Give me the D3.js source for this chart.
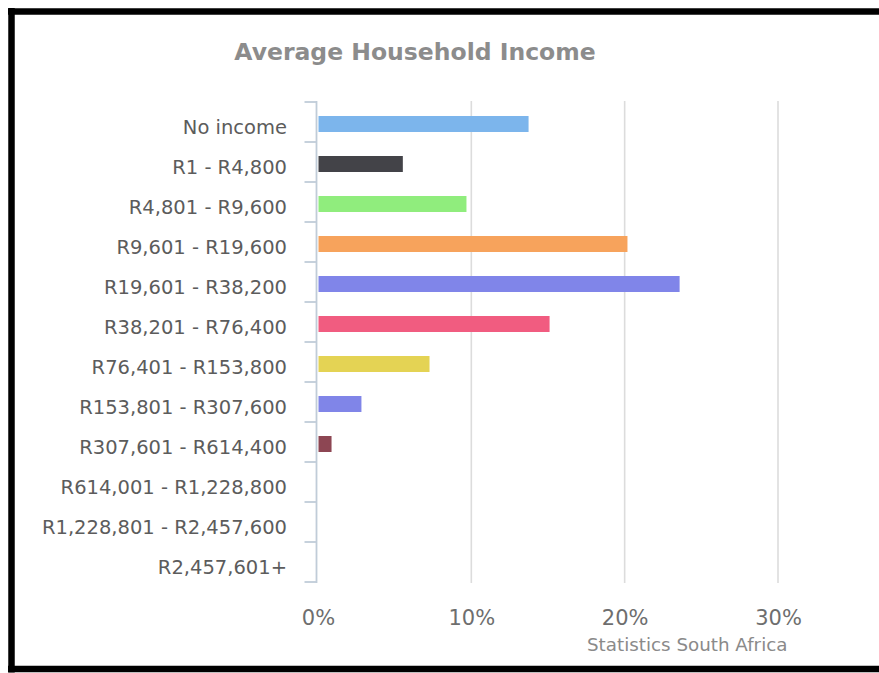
<!DOCTYPE html>
<html>
<head>
<meta charset="utf-8">
<script src="https://cdn.jsdelivr.net/npm/d3@7"></script>
<style>
  html, body { margin: 0; padding: 0; background: #ffffff; overflow: hidden; }
  svg { display: block; }
</style>
</head>
<body>
<svg id="chart" width="879" height="673"></svg>
<script>
const categories = [
  "No income", "R1 - R4,800", "R4,801 - R9,600", "R9,601 - R19,600",
  "R19,601 - R38,200", "R38,201 - R76,400", "R76,401 - R153,800",
  "R153,801 - R307,600", "R307,601 - R614,400", "R614,001 - R1,228,800",
  "R1,228,801 - R2,457,600", "R2,457,601+"
];
const values = [13.7, 5.5, 9.65, 20.15, 23.55, 15.07, 7.24, 2.8, 0.85, 0, 0, 0];
const colors = ["#7cb5ec", "#434348", "#90ed7d", "#f7a35c", "#8085e9", "#f15c80",
                "#e4d354", "#8085e8", "#8d4653", "#91e8e1", "#7cb5ec", "#434348"];
const xTicks = [0, 10, 20, 30];
const titleText = "Average Household Income";
const creditText = "Statistics South Africa";

const svg = d3.select("#chart");
const font = "'DejaVu Sans', Verdana, sans-serif";

// frame (top, left, bottom only; right edge is cut off)
const frame = svg.append("g").attr("stroke", "#000").attr("stroke-width", 6.5);
frame.append("line").attr("x1", 8).attr("x2", 879).attr("y1", 11.5).attr("y2", 11.5);
frame.append("line").attr("x1", 11.5).attr("x2", 11.5).attr("y1", 8).attr("y2", 672.5);
frame.append("line").attr("x1", 8).attr("x2", 879).attr("y1", 669).attr("y2", 669);

const x = d3.scaleLinear().domain([0, 30]).range([318, 778]);
const y = d3.scaleBand().domain(categories).range([103, 583]).paddingInner(0).paddingOuter(0);
const barH = 16;

// gridlines
svg.append("g").selectAll("line").data(xTicks.filter(d => d > 0)).join("line")
  .attr("x1", d => x(d)).attr("x2", d => x(d))
  .attr("y1", 101).attr("y2", 583)
  .attr("stroke", "#dcdcdc").attr("stroke-width", 1.6);

// title
svg.append("text").attr("x", 415).attr("y", 60).attr("text-anchor", "middle")
  .attr("font-family", font).attr("font-weight", "bold").attr("font-size", 23.5)
  .attr("fill", "#8c8c8c").text(titleText);

// bars
svg.append("g").selectAll("rect").data(values).join("rect")
  .attr("x", x(0) + 0.5)
  .attr("y", (d, i) => y(categories[i]) + y.bandwidth() / 2 - barH / 2 + 1)
  .attr("width", d => Math.max(0, x(d) - x(0)))
  .attr("height", barH)
  .attr("fill", (d, i) => colors[i]);

// y axis line and ticks (between categories)
const axisX = x(0) - 1.5;
svg.append("line").attr("x1", axisX).attr("x2", axisX).attr("y1", 101).attr("y2", 583)
  .attr("stroke", "#c0ccd8").attr("stroke-width", 1.8);
const bounds = categories.map(c => y(c)).concat([y(categories[categories.length - 1]) + y.bandwidth()]);
svg.append("g").selectAll("line").data(bounds).join("line")
  .attr("x1", axisX - 12).attr("x2", axisX)
  .attr("y1", d => d - 1).attr("y2", d => d - 1)
  .attr("stroke", "#c0ccd8").attr("stroke-width", 1.8);

// category labels
svg.append("g").selectAll("text").data(categories).join("text")
  .attr("x", 287)
  .attr("y", d => y(d) + y.bandwidth() / 2 + 10.5)
  .attr("text-anchor", "end")
  .attr("font-family", font).attr("font-size", 19.5)
  .attr("fill", "#5c5c5c")
  .text(d => d);

// x axis labels
const xAxis = d3.axisBottom(x).tickValues(xTicks).tickFormat(d => d + "%").tickSize(0);
const gx = svg.append("g").attr("transform", "translate(0,583)").call(xAxis);
gx.select(".domain").remove();
gx.selectAll("text").attr("y", 42).attr("dy", 0)
  .attr("font-family", font).attr("font-size", 21)
  .attr("fill", "#6e6e6e");

// credit
svg.append("text").attr("x", 587).attr("y", 651)
  .attr("font-family", font).attr("font-size", 18.3)
  .attr("fill", "#8a8a8a").text(creditText);
</script>
</body>
</html>
